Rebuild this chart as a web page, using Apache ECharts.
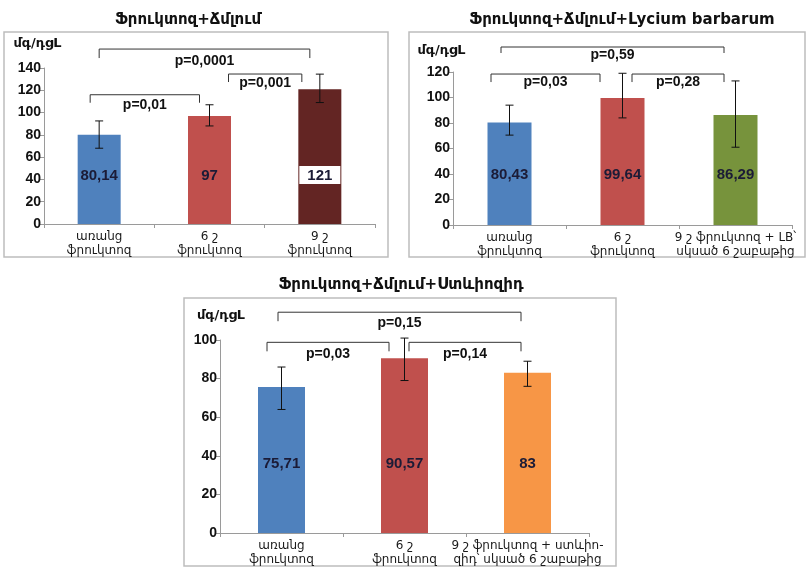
<!DOCTYPE html>
<html><head><meta charset="utf-8">
<script src="https://cdn.jsdelivr.net/npm/echarts@6/dist/echarts.min.js"></script>
<style>html,body{margin:0;padding:0;background:#fff}#c{width:812px;height:568px}</style>
</head><body><div id="c"></div>
<script>
// ---------- DATA ----------
const titles = ['Ֆրուկտոզ+Ճմլում', 'Ֆրուկտոզ+Ճմլում+Lycium barbarum', 'Ֆրուկտոզ+Ճմլում+Ստևիոզիդ'];
const yName = 'մգ/դցL';
const categories1 = ['առանց\nֆրուկտոզ', '6 շ\nֆրուկտոզ', '9 շ\nֆրուկտոզ'];
const categories2 = ['առանց\nֆրուկտոզ', '6 շ\nֆրուկտոզ', '9 շ ֆրուկտոզ + LB՝\nսկսած 6 շաբաթից'];
const categories3 = ['առանց\nֆրուկտոզ', '6 շ\nֆրուկտոզ', '9 շ ֆրուկտոզ + ստևիո-\nզիդ՝ սկսած 6 շաբաթից'];
const values1 = [80.14, 97, 121];
const values2 = [80.43, 99.64, 86.29];
const values3 = [75.71, 90.57, 83];
const errLow1 = [68, 88, 109];
const errHigh1 = [92.5, 107, 134.5];
const errLow2 = [70.5, 84, 61];
const errHigh2 = [94, 119, 113];
const errLow3 = [64, 79, 76];
const errHigh3 = [86, 101, 89];
const yMax1 = 140, yMax2 = 120, yMax3 = 100;
const yStep = 20;
// significance brackets: [fromCategory, toCategory, level (value units), p label]
const brackets1 = [[0, 2, 157, 'p=0,0001'], [0, 1, 116, 'p=0,01'], [1, 2, 134.6, 'p=0,001']];
const brackets2 = [[0, 2, 139.6, 'p=0,59'], [0, 1, 118.4, 'p=0,03'], [1, 2, 118.4, 'p=0,28']];
const brackets3 = [[0, 2, 114.4, 'p=0,15'], [0, 1, 98.8, 'p=0,03'], [1, 2, 98.8, 'p=0,14']];

// ---------- STYLE / LAYOUT ----------
const colors1 = ['#4f81bd', '#c0504d', '#632523'];
const colors2 = ['#4f81bd', '#c0504d', '#77933c'];
const colors3 = ['#4f81bd', '#c0504d', '#f79646'];
const FNUM = '"Liberation Sans","DejaVu Sans",sans-serif';
const FARM = '"DejaVu Sans",sans-serif';
const layouts = [
  {left: 44, top: 68, width: 331, height: 156, barWidth: 43, labelDist: 41, namePad: [0, 13, 0, 0], nameGap: 18,
   title: [183, 8], box: [4, 32, 384, 225], brDx: [[0, -10], [-9, -10], [19, -18]], leg: [9, 8, 8], txt: [12, 10, 9]},
  {left: 453, top: 72, width: 339, height: 153, barWidth: 44, labelDist: 43, namePad: [0, 23, 0, 0], nameGap: 15,
   title: [617, 8], box: [409, 32, 396, 225], brDx: [[-8.5, -11.5], [-18.5, -22.5], [9.5, -11.5]], leg: [6, 8, 8], txt: [8, 8, 8]},
  {left: 220, top: 340, width: 369, height: 193, barWidth: 47, labelDist: 62, namePad: [0, 0, 0, 2], nameGap: 18,
   title: [396, 273], box: [184, 298, 432, 268], brDx: [[-3.5, -6.5], [-14.5, -15.5], [4.5, -6.5]], leg: [9, 9, 9], txt: [11, 12, 12]}
];

const panels = [
  {cats: categories1, vals: values1, lo: errLow1, hi: errHigh1, max: yMax1, br: brackets1, colors: colors1},
  {cats: categories2, vals: values2, lo: errLow2, hi: errHigh2, max: yMax2, br: brackets2, colors: colors2},
  {cats: categories3, vals: values3, lo: errLow3, hi: errHigh3, max: yMax3, br: brackets3, colors: colors3}
];

const chart = echarts.init(document.getElementById('c'));
const grid = [], xAxis = [], yAxis = [], series = [], title = [], graphic = [];

panels.forEach((p, k) => {
  const L = layouts[k];
  grid.push({left: L.left, top: L.top, width: L.width, height: L.height, containLabel: false});
  title.push({text: titles[k], left: L.title[0], top: L.title[1], textAlign: 'center',
    textStyle: {fontFamily: FARM, fontWeight: 'bold', fontSize: 15, color: '#111'}});
  graphic.push({type: 'rect', shape: {x: L.box[0], y: L.box[1], width: L.box[2], height: L.box[3]},
    style: {fill: 'none', stroke: '#bdbdbd', lineWidth: 1.5}, z: -1});
  xAxis.push({type: 'category', gridIndex: k, data: p.cats,
    axisLine: {lineStyle: {color: '#9a9a9a'}},
    axisTick: {show: true, length: 4, lineStyle: {color: '#9a9a9a'}},
    axisLabel: {interval: 0, fontFamily: FARM, fontSize: 12, lineHeight: 14, color: '#1a1a1a', margin: 6}});
  yAxis.push({type: 'value', gridIndex: k, min: 0, max: p.max, interval: yStep,
    name: yName, nameLocation: 'end', nameGap: L.nameGap,
    nameTextStyle: {fontFamily: FARM, fontWeight: 'bold', fontSize: 13, color: '#111', padding: L.namePad},
    axisLine: {show: true, lineStyle: {color: '#9a9a9a'}},
    axisTick: {show: true, length: 4, lineStyle: {color: '#9a9a9a'}},
    splitLine: {show: false},
    axisLabel: {fontFamily: FNUM, fontWeight: 'bold', fontSize: 14, color: '#111', margin: 3}});
  series.push({type: 'bar', xAxisIndex: k, yAxisIndex: k, barWidth: L.barWidth,
    data: p.vals.map((v, i) => {
      const item = {value: v, itemStyle: {color: p.colors[i]}};
      if (k === 0 && i === 2) item.label = {backgroundColor: '#fff', padding: [2, 8, 1, 8], distance: L.labelDist - 1};
      return item;
    }),
    label: {show: true, position: 'insideBottom', distance: L.labelDist,
      fontFamily: FNUM, fontWeight: 'bold', fontSize: 15, color: '#1b1b36',
      formatter: (d) => String(d.value).replace('.', ',')}});
  series.push({type: 'custom', xAxisIndex: k, yAxisIndex: k, z: 5,
    data: p.vals.map((v, i) => [i, p.lo[i], p.hi[i]]),
    renderItem: (params, api) => {
      const a = api.coord([api.value(0), api.value(1)]);
      const b = api.coord([api.value(0), api.value(2)]);
      const hw = 4, st = {stroke: '#111', lineWidth: 1};
      return {type: 'group', children: [
        {type: 'line', shape: {x1: a[0], y1: a[1], x2: b[0], y2: b[1]}, style: st},
        {type: 'line', shape: {x1: a[0] - hw, y1: a[1], x2: a[0] + hw, y2: a[1]}, style: st},
        {type: 'line', shape: {x1: b[0] - hw, y1: b[1], x2: b[0] + hw, y2: b[1]}, style: st}
      ]};
    }});
  series.push({type: 'custom', xAxisIndex: k, yAxisIndex: k, z: 5, clip: false,
    data: p.br.map((b, j) => [b[0], b[1], b[2], j]),
    renderItem: (params, api) => {
      const j = api.value(3);
      const a = api.coord([api.value(0), api.value(2)]);
      const b = api.coord([api.value(1), api.value(2)]);
      const x1 = a[0] + L.brDx[j][0], x2 = b[0] + L.brDx[j][1], y = a[1], leg = L.leg[j];
      const st = {stroke: '#333', lineWidth: 1, fill: 'none'};
      return {type: 'group', children: [
        {type: 'polyline', shape: {points: [[x1, y + leg], [x1, y], [x2, y], [x2, y + leg]]}, style: st},
        {type: 'text', x: (x1 + x2) / 2, y: y + L.txt[j],
          style: {text: p.br[j][3], textAlign: 'center', textVerticalAlign: 'middle',
            font: 'bold 14px ' + FNUM, fill: '#111'}}
      ]};
    }});
});

chart.setOption({animation: false, backgroundColor: '#fff', title, grid, xAxis, yAxis, series, graphic});
</script>
</body></html>
